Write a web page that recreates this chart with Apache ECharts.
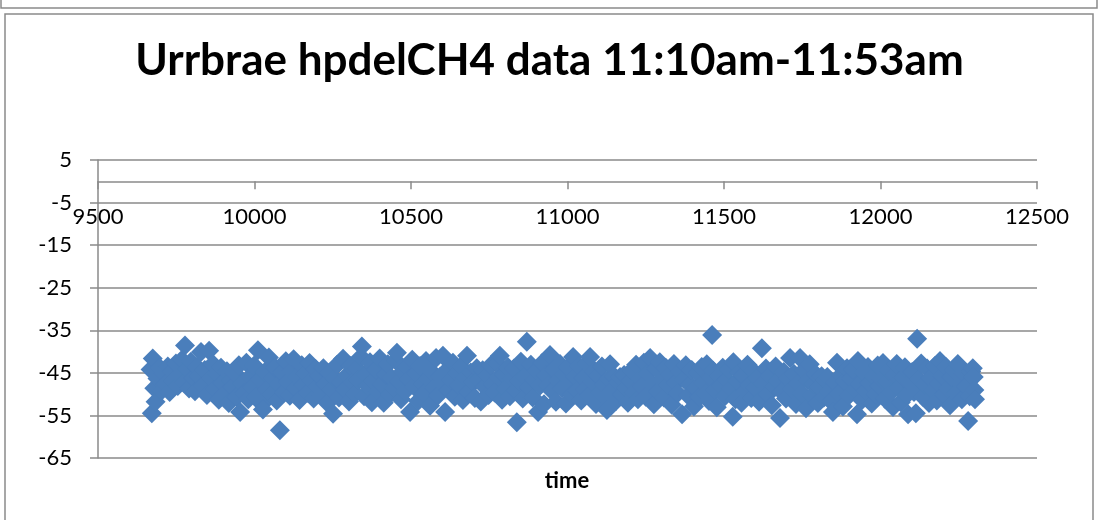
<!DOCTYPE html>
<html><head><meta charset="utf-8">
<script src="https://cdn.jsdelivr.net/npm/echarts@6/dist/echarts.min.js"></script>
<style>html,body{margin:0;padding:0;background:#fff}#c{width:1099px;height:520px}</style>
</head><body><div id="c"></div>
<script>
const chartTitle = 'Urrbrae hpdelCH4 data 11:10am-11:53am';
const xAxisTitle = 'time';
const yTicks = [5, -5, -15, -25, -35, -45, -55, -65];
const xTicks = [9500, 10000, 10500, 11000, 11500, 12000, 12500];

const seg1 = [[9668,-44.2],[9672,-54.5],[9675,-41.6],[9680,-48.6],[9684,-51.8],[9690,-46.3],[9697,-43.8],[9703,-49.2],[9710,-45.1],[9716,-47.7],[9723,-43.5],[9729,-49.5],[9736,-44.6],[9742,-46.9],[9749,-42.8],[9755,-48.1],[9762,-45.5],[9768,-41.9],[9775,-47.3],[9778,-38.6],[9785,-44.1],[9791,-48.7],[9797,-42.4],[9804,-46.2],[9810,-49.3],[9816,-43.6],[9822,-45.8],[9829,-40.1],[9835,-47.9],[9841,-44.3],[9848,-50.2],[9855,-39.8],[9861,-46.4],[9867,-42.9],[9874,-48.8],[9880,-45.2],[9886,-51.3],[9893,-43.8],[9899,-47.4],[9905,-49.9],[9912,-44.6],[9918,-52.1],[9924,-46.8],[9931,-48.3],[9937,-45.1],[9943,-50.6],[9950,-43.2],[9954,-54.2],[9961,-47.5],[9967,-49.8],[9974,-42.6],[9980,-51.2],[9986,-45.9],[9993,-48.4],[9999,-43.3],[10005,-50.7],[10011,-39.7],[10018,-46.6],[10024,-52.3],[10027,-53.6],[10033,-44.8],[10040,-48.9],[10046,-41.4],[10052,-50.1],[10059,-46.2],[10065,-43.7],[10071,-51.5],[10078,-47.8],[10081,-58.5],[10088,-44.9],[10094,-49.6]];
const seg2 = [[10100,-42.3],[10106,-47.1],[10113,-50.4],[10119,-44.5],[10125,-41.8],[10132,-48.6],[10138,-46.0],[10144,-51.4],[10151,-43.2],[10157,-47.9],[10163,-45.3],[10170,-49.7],[10176,-42.7],[10182,-46.8],[10189,-51.0],[10195,-44.1],[10201,-48.2],[10208,-45.7],[10214,-50.3],[10220,-43.9],[10227,-47.6],[10233,-52.1],[10239,-45.0],[10246,-49.1],[10251,-54.6],[10257,-46.4],[10264,-43.1],[10270,-50.8],[10276,-47.3],[10283,-41.7],[10289,-48.9],[10295,-45.6],[10302,-51.7],[10308,-43.4],[10314,-47.2],[10321,-49.8],[10327,-44.0],[10333,-46.7],[10340,-41.2],[10343,-38.8],[10350,-50.5],[10356,-45.3],[10362,-48.1],[10369,-42.5],[10375,-51.9],[10381,-46.9],[10388,-44.2],[10394,-49.4],[10400,-41.6],[10407,-47.8],[10413,-52.0],[10419,-45.4],[10426,-43.0],[10432,-50.1],[10438,-46.2],[10445,-48.7],[10451,-42.1],[10455,-40.3],[10462,-47.0],[10468,-51.2],[10474,-44.7],[10481,-49.3],[10487,-43.6],[10493,-46.5],[10497,-54.2]];
const seg3 = [[10504,-41.9],[10510,-48.2],[10517,-45.1],[10523,-51.6],[10529,-43.4],[10536,-47.6],[10542,-49.9],[10548,-42.2],[10555,-46.3],[10561,-52.7],[10567,-44.8],[10574,-48.5],[10580,-41.5],[10586,-50.3],[10593,-45.9],[10599,-47.4],[10602,-41.0],[10609,-54.2],[10615,-44.3],[10621,-49.0],[10628,-46.7],[10634,-42.6],[10640,-50.6],[10647,-45.2],[10653,-48.0],[10659,-43.5],[10666,-51.4],[10672,-46.1],[10679,-41.0],[10685,-49.5],[10691,-44.9],[10698,-47.3],[10704,-50.9],[10710,-43.9],[10717,-46.5],[10723,-51.7],[10729,-44.4],[10736,-48.3],[10742,-45.6],[10748,-50.2],[10755,-43.2],[10761,-47.7],[10767,-49.6],[10774,-42.8],[10780,-46.0],[10784,-41.0],[10791,-51.3],[10797,-45.4],[10803,-48.8],[10810,-43.7],[10816,-50.5],[10822,-46.3],[10829,-44.0],[10835,-49.2],[10838,-56.6],[10845,-47.1],[10851,-42.4],[10857,-51.0],[10864,-45.8],[10870,-37.7],[10876,-48.4],[10883,-43.1],[10889,-50.8],[10895,-46.6],[10902,-44.5],[10906,-54.2],[10912,-48.0],[10919,-42.7],[10925,-52.4],[10931,-45.7],[10938,-47.9],[10944,-40.8]];
const seg4 = [[10951,-49.3],[10957,-44.2],[10963,-51.8],[10970,-46.8],[10976,-42.9],[10982,-48.6],[10989,-45.3],[10995,-52.2],[11001,-43.7],[11008,-47.4],[11014,-50.0],[11018,-41.3],[11025,-45.9],[11031,-49.2],[11037,-43.4],[11044,-51.5],[11050,-46.2],[11056,-48.9],[11063,-42.8],[11069,-50.4],[11072,-41.3],[11079,-47.1],[11085,-44.6],[11091,-52.3],[11098,-45.7],[11104,-49.7],[11110,-43.5],[11117,-47.8],[11123,-50.9],[11126,-53.7],[11132,-46.4],[11136,-43.0],[11143,-49.1],[11149,-45.8],[11155,-51.6],[11162,-47.2],[11168,-46.0],[11174,-50.1],[11181,-45.5],[11187,-48.4],[11193,-52.0],[11200,-46.9],[11206,-44.4],[11212,-49.6],[11219,-43.1],[11225,-51.2],[11231,-46.3],[11238,-48.2],[11244,-42.6],[11250,-50.6],[11257,-45.1],[11264,-41.5],[11270,-47.6],[11276,-52.4],[11283,-44.0],[11289,-49.4],[11295,-42.5],[11302,-46.7],[11308,-50.8],[11314,-43.8],[11321,-48.0],[11327,-45.4],[11333,-52.5],[11340,-42.9],[11346,-47.3],[11352,-49.8],[11359,-44.7],[11366,-54.7],[11372,-46.5],[11378,-43.2],[11385,-50.3],[11391,-47.7],[11397,-44.3],[11404,-52.9],[11410,-48.6],[11416,-45.0],[11423,-50.7],[11429,-43.6],[11435,-47.4],[11442,-49.9],[11445,-43.0],[11462,-36.1]];
const seg5 = [[11452,-51.6],[11458,-46.1],[11465,-44.5],[11471,-49.0],[11477,-53.1],[11484,-45.9],[11490,-47.9],[11496,-43.8],[11503,-50.5],[11509,-46.6],[11515,-44.2],[11522,-48.7],[11528,-55.3],[11530,-42.5],[11537,-51.2],[11543,-47.0],[11549,-44.9],[11556,-52.0],[11562,-45.6],[11568,-49.3],[11575,-43.1],[11581,-47.8],[11587,-50.9],[11594,-44.6],[11600,-48.5],[11606,-46.2],[11612,-51.8],[11621,-39.2],[11627,-47.3],[11634,-44.0],[11640,-50.0],[11646,-45.7],[11653,-52.6],[11659,-48.2],[11665,-43.5],[11672,-46.9],[11679,-55.6],[11685,-49.5],[11691,-44.8],[11698,-51.0],[11704,-46.4],[11711,-41.5],[11717,-48.8],[11723,-45.2],[11730,-52.3],[11736,-47.5],[11743,-41.5],[11749,-49.9],[11755,-44.4],[11762,-53.3],[11768,-46.8],[11774,-43.0],[11781,-50.4],[11787,-47.6],[11793,-45.3],[11800,-52.1],[11806,-48.3],[11812,-45.8],[11819,-50.8],[11825,-46.7],[11830,-46.0],[11836,-49.4],[11842,-51.7],[11848,-54.2],[11855,-47.2],[11861,-42.6],[11867,-49.8],[11874,-45.5],[11880,-52.9],[11886,-47.0],[11893,-43.9]];
const seg6 = [[11899,-50.3],[11906,-46.3],[11912,-44.2],[11918,-48.9],[11925,-54.7],[11928,-42.2],[11934,-47.7],[11941,-51.4],[11947,-45.0],[11953,-49.2],[11960,-43.6],[11966,-47.4],[11972,-52.2],[11979,-45.9],[11985,-50.0],[11991,-43.3],[11998,-48.1],[12004,-46.5],[12008,-42.7],[12014,-51.1],[12021,-47.0],[12027,-44.5],[12033,-49.6],[12040,-53.0],[12046,-45.4],[12052,-42.9],[12059,-48.4],[12065,-51.9],[12071,-46.1],[12078,-43.7],[12084,-50.2],[12088,-54.7],[12095,-47.3],[12101,-44.8],[12107,-49.5],[12113,-54.5],[12117,-37.0],[12123,-46.6],[12130,-42.8],[12136,-50.7],[12142,-47.8],[12149,-44.0],[12155,-52.1],[12161,-46.2],[12168,-49.1],[12174,-43.4],[12180,-51.5],[12187,-47.5],[12190,-42.2],[12197,-45.7],[12203,-50.1],[12209,-43.6],[12216,-48.7],[12222,-52.6],[12228,-46.0],[12235,-44.3],[12241,-49.8],[12247,-42.9],[12254,-47.4],[12260,-51.2],[12266,-45.1],[12273,-48.2],[12280,-56.3],[12285,-50.5],[12290,-44.7],[12295,-43.9],[12298,-46.0],[12300,-49.0],[12302,-51.2]];

const points = [].concat(seg1, seg2, seg3, seg4, seg5, seg6);

const GRID_TOP = 160, GRID_H = 298;
const yMin = yTicks[yTicks.length - 1], yMax = yTicks[0];
// distance from the top of the plot to the value 0, where the time axis crosses
const zeroOffset = (yMax - 0) / (yMax - yMin) * GRID_H;

const chart = echarts.init(document.getElementById('c'), null, {renderer: 'canvas'});
const FONT = 'Lato';
const GRIDC = '#8a8a8a';
chart.setOption({
  animation: false,
  backgroundColor: '#fff',
  title: {
    text: chartTitle, left: 'center', top: 34,
    textStyle: {fontFamily: FONT, fontWeight: 'bold', fontSize: 44, color: '#000'}
  },
  grid: {left: 98, right: 62, top: GRID_TOP, height: GRID_H, containLabel: false},
  xAxis: {
    type: 'value', position: 'top', offset: -zeroOffset,
    min: xTicks[0], max: xTicks[xTicks.length - 1], interval: 500,
    axisLine: {show: true, onZero: false, lineStyle: {color: GRIDC, width: 1.5}},
    axisTick: {show: true, inside: true, length: 8, lineStyle: {color: GRIDC, width: 1.5}},
    axisLabel: {inside: true, margin: 25, fontFamily: FONT, fontSize: 22, color: '#000', formatter: v => String(v)},
    splitLine: {show: false}
  },
  yAxis: {
    type: 'value', min: yMin, max: yMax, interval: 10,
    axisLine: {show: true, lineStyle: {color: GRIDC, width: 1.5}},
    axisTick: {show: true, length: 8, lineStyle: {color: GRIDC, width: 1.5}},
    axisLabel: {margin: 26, fontFamily: FONT, fontSize: 22, color: '#000'},
    splitLine: {show: true, lineStyle: {color: GRIDC, width: 1.5}}
  },
  graphic: [
    {type: 'rect', shape: {x: 1, y: -10, width: 1096, height: 18}, style: {fill: 'none', stroke: '#8a8a8a', lineWidth: 1.5}},
    {type: 'rect', shape: {x: 5, y: 14, width: 1088, height: 520}, style: {fill: 'none', stroke: '#8a8a8a', lineWidth: 1.5}},
    {type: 'text', x: 567, y: 481, style: {text: xAxisTitle, fontFamily: FONT, fontWeight: 'bold', fontSize: 22, fill: '#000', textAlign: 'center', textVerticalAlign: 'middle'}}
  ],
  series: [{
    type: 'scatter', symbol: 'diamond', symbolSize: 20,
    itemStyle: {color: '#4a7ebb', opacity: 1},
    data: points
  }]
});
</script></body></html>
